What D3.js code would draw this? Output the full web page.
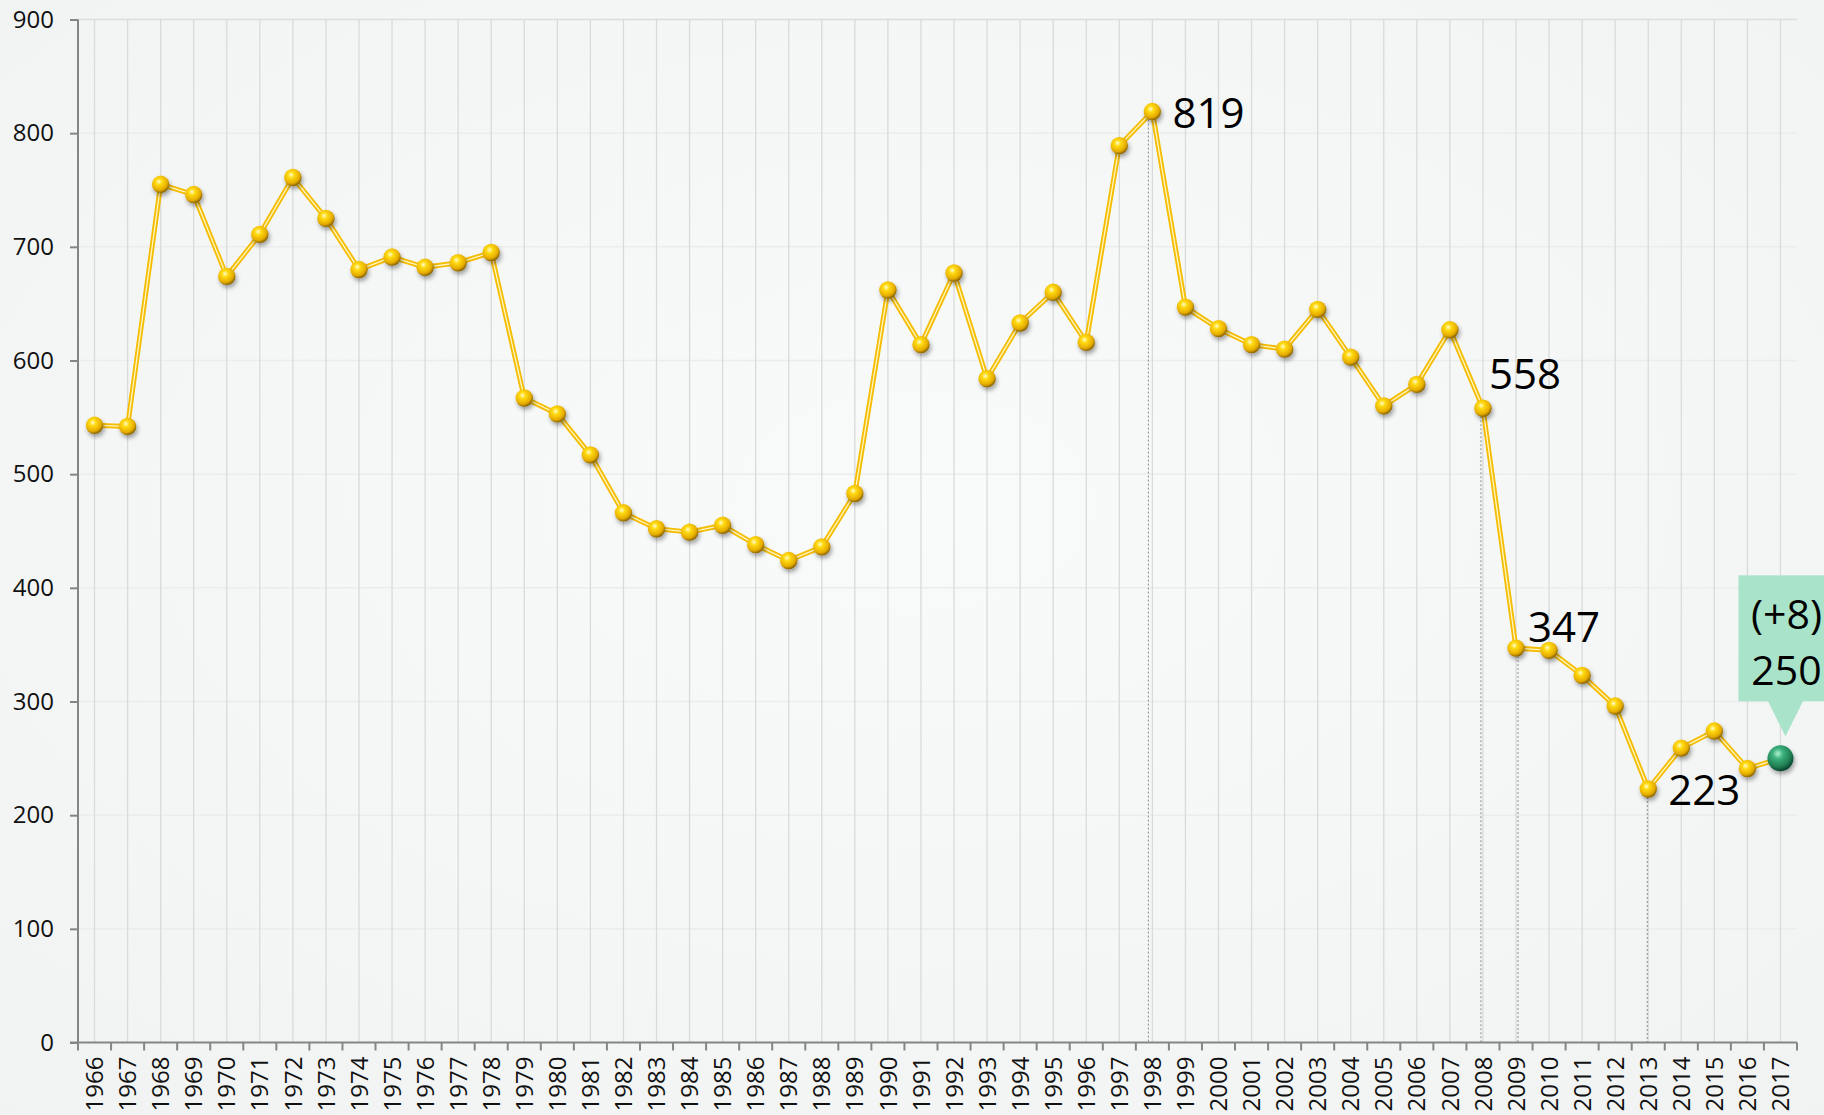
<!DOCTYPE html>
<html>
<head>
<meta charset="utf-8">
<script src="https://cdn.jsdelivr.net/npm/d3@7"></script>
<style>
body { margin: 0; overflow: hidden; }
svg { display: block; }
</style>
</head>
<body>
<div id="graph"></div>
<script>
var years = ['1966','1967','1968','1969','1970','1971','1972','1973','1974','1975','1976','1977','1978',
  '1979','1980','1981','1982','1983','1984','1985','1986','1987','1988','1989',
  '1990','1991','1992','1993','1994','1995','1996','1997','1998','1999',
  '2000','2001','2002','2003','2004','2005','2006','2007','2008','2009',
  '2010','2011','2012','2013','2014','2015','2016','2017'];
var values = [543,542,755,746,674,711,761,725,680,691,682,686,695,
  567,553,517,466,452,449,455,438,424,436,483,
  662,614,677,584,633,660,616,789,819,647,
  628,614,610,645,603,560,579,627,558,347,
  345,323,296,223,259,274,241,250];
var yTicks = [0,100,200,300,400,500,600,700,800,900];
var labelYears = ['1998','2008','2009','2013'];
var lastYear = '2017';
var lastDelta = '(+8)';

var svgWidth = 1824, svgHeight = 1115,
  margin = {top: 19.5, right: 27, bottom: 72.5, left: 78},
  width = svgWidth - margin.left - margin.right,
  height = svgHeight - margin.top - margin.bottom;

var svg = d3.select('#graph').append('svg').attr('width', svgWidth).attr('height', svgHeight);
var defs = svg.append('defs');

var bg = defs.append('radialGradient').attr('id', 'bg').attr('cx', '50%').attr('cy', '45%').attr('r', '75%');
bg.append('stop').attr('offset', '0%').attr('stop-color', '#f9fafa');
bg.append('stop').attr('offset', '100%').attr('stop-color', '#f1f3f3');

var gold = defs.append('radialGradient').attr('id', 'gold').attr('cx', '40%').attr('cy', '35%').attr('r', '65%');
gold.append('stop').attr('offset', '0%').attr('stop-color', '#fffbd0');
gold.append('stop').attr('offset', '28%').attr('stop-color', '#ffda10');
gold.append('stop').attr('offset', '75%').attr('stop-color', '#e6ac00');
gold.append('stop').attr('offset', '100%').attr('stop-color', '#8a6500');

var green = defs.append('radialGradient').attr('id', 'green').attr('cx', '40%').attr('cy', '32%').attr('r', '65%');
green.append('stop').attr('offset', '0%').attr('stop-color', '#b0f2d2');
green.append('stop').attr('offset', '30%').attr('stop-color', '#3db27e');
green.append('stop').attr('offset', '78%').attr('stop-color', '#1f7d52');
green.append('stop').attr('offset', '100%').attr('stop-color', '#0e4c33');

var shadow = defs.append('filter').attr('id', 'shadow').attr('x', '-50%').attr('y', '-50%').attr('width', '200%').attr('height', '200%');
shadow.append('feDropShadow').attr('dx', 1.5).attr('dy', 3).attr('stdDeviation', 2)
  .attr('flood-color', '#000').attr('flood-opacity', 0.35);

svg.append('rect').attr('width', svgWidth).attr('height', svgHeight).attr('fill', 'url(#bg)');

var g = svg.append('g').attr('transform', 'translate(' + margin.left + ',' + margin.top + ')');

var x = d3.scaleBand().domain(years).range([0, width]);
var y = d3.scaleLinear().domain([0, 900]).range([height, 0]);
var cx = function(d) { return x(d) + x.bandwidth() / 2; };

// horizontal grid
g.selectAll('.hgrid').data(yTicks.slice(1)).enter().append('line')
  .attr('x1', 0).attr('x2', width)
  .attr('y1', function(d) { return y(d); }).attr('y2', function(d) { return y(d); })
  .style('stroke', function(d) { return d === 900 ? '#dcdcdc' : '#ececec'; })
  .style('stroke-width', 1.5);

// vertical grid at category centres
g.selectAll('.vgrid').data(years).enter().append('line')
  .attr('x1', cx).attr('x2', cx)
  .attr('y1', 0).attr('y2', height)
  .style('stroke', '#dadada').style('stroke-width', 1.3);

// drop lines
var dropShift = {'1998': -4, '2008': -2, '2009': 2, '2013': -1};
g.selectAll('.drop').data(labelYears).enter().append('line')
  .attr('x1', function(d) { return cx(d) + dropShift[d]; })
  .attr('x2', function(d) { return cx(d) + dropShift[d]; })
  .attr('y1', function(d) { return y(values[years.indexOf(d)]); })
  .attr('y2', height)
  .style('stroke', '#8a8a8a').style('stroke-width', 1).style('stroke-dasharray', '2,2');

// axes
var xAxis = g.append('g').attr('transform', 'translate(0,' + height + ')')
  .call(d3.axisBottom(x).tickSize(0).tickFormat(''));
xAxis.select('.domain').remove();
xAxis.append('line').attr('x1', -8).attr('x2', width).attr('y1', 0).attr('y2', 0)
  .style('stroke', '#858585').style('stroke-width', 2);
xAxis.selectAll('.bticks').data(years.concat(['end'])).enter().append('line')
  .attr('x1', function(d, i) { return i * x.step(); })
  .attr('x2', function(d, i) { return i * x.step(); })
  .attr('y1', 0).attr('y2', 8)
  .style('stroke', '#858585').style('stroke-width', 2);
xAxis.selectAll('.lbl').data(years).enter().append('text')
  .attr('transform', function(d) { return 'translate(' + cx(d) + ',14) rotate(-90)'; })
  .attr('dy', '0.36em')
  .style('text-anchor', 'end')
  .style('font-family', '"Open Sans", sans-serif').style('font-size', '24px').style('fill', '#111')
  .text(function(d) { return d; });

var yAxis = g.append('g')
  .call(d3.axisLeft(y).tickValues(yTicks).tickSize(8).tickPadding(16));
yAxis.select('.domain').style('stroke', '#858585').style('stroke-width', 2).attr('d', 'M0,0V' + height);
yAxis.selectAll('.tick line').style('stroke', '#858585').style('stroke-width', 2);
yAxis.selectAll('.tick text')
  .style('font-family', '"Open Sans", sans-serif').style('font-size', '24px').style('fill', '#111');

// line
var line = d3.line()
  .x(function(d, i) { return cx(years[i]); })
  .y(function(d) { return y(d); });

g.append('path').datum(values).attr('d', line)
  .style('fill', 'none').style('stroke', '#f5bd00').style('stroke-width', 5).style('stroke-linejoin', 'round');
g.append('path').datum(values).attr('d', line)
  .style('fill', 'none').style('stroke', '#fff6c8').style('stroke-width', 1.3).style('stroke-linejoin', 'round');

// markers
g.selectAll('.dot').data(values.slice(0, values.length - 1)).enter().append('circle')
  .attr('cx', function(d, i) { return cx(years[i]); })
  .attr('cy', function(d) { return y(d); })
  .attr('r', 8.7)
  .attr('fill', 'url(#gold)')
  .attr('filter', 'url(#shadow)');

var lastVal = values[years.indexOf(lastYear)];
g.append('circle')
  .attr('cx', cx(lastYear)).attr('cy', y(lastVal)).attr('r', 13)
  .attr('fill', 'url(#green)').attr('filter', 'url(#shadow)');

// value labels
var labelOffsets = {'1998': [20, 16], '2008': [6, -19], '2009': [12, -6], '2013': [20, 16]};
g.selectAll('.vlabel').data(labelYears).enter().append('text')
  .attr('x', function(d) { return cx(d) + labelOffsets[d][0]; })
  .attr('y', function(d) { return y(values[years.indexOf(d)]) + labelOffsets[d][1]; })
  .style('font-family', '"Open Sans", sans-serif').style('font-size', '42px').style('fill', '#000')
  .text(function(d) { return values[years.indexOf(d)]; });

// callout for last year
var px = cx(lastYear), py = y(lastVal);
var callout = g.append('g');
callout.append('rect')
  .attr('x', px - 42).attr('y', py - 183).attr('width', 120).attr('height', 126)
  .attr('fill', '#a9e3c9');
callout.append('path')
  .attr('d', 'M' + (px - 13) + ',' + (py - 58) + 'L' + (px + 23) + ',' + (py - 58) + 'L' + (px + 5) + ',' + (py - 22) + 'Z')
  .attr('fill', '#a9e3c9');
callout.append('text')
  .attr('x', px + 6).attr('y', py - 129)
  .style('text-anchor', 'middle')
  .style('font-family', '"Open Sans", sans-serif').style('font-size', '41px').style('fill', '#000')
  .text(lastDelta);
callout.append('text')
  .attr('x', px + 6).attr('y', py - 73)
  .style('text-anchor', 'middle')
  .style('font-family', '"Open Sans", sans-serif').style('font-size', '41px').style('fill', '#000')
  .text(lastVal);
</script>
</body>
</html>
